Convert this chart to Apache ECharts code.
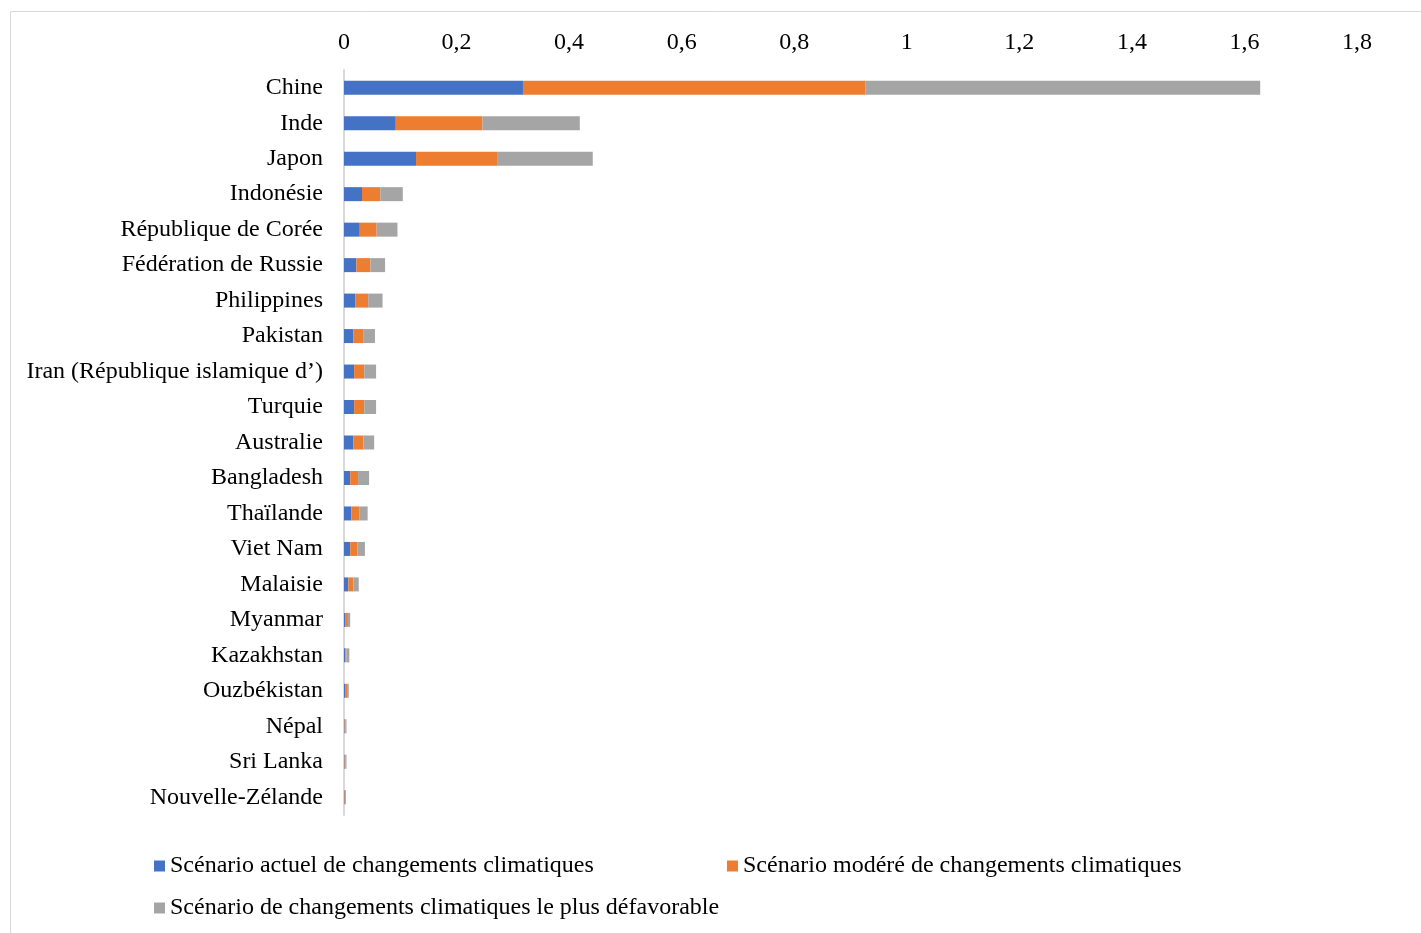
<!DOCTYPE html>
<html>
<head>
<meta charset="utf-8">
<script src="https://cdn.jsdelivr.net/npm/echarts@6/dist/echarts.min.js"></script>
<style>
  html, body { margin: 0; padding: 0; background: #fff; }
  #chart { width: 1421px; height: 933px; }
</style>
</head>
<body>
<div id="chart"></div>
<script>
// pays (du haut vers le bas)
var categories = ['Chine', 'Inde', 'Japon', 'Indonésie', 'République de Corée', 'Fédération de Russie',
  'Philippines', 'Pakistan', 'Iran (République islamique d’)', 'Turquie', 'Australie', 'Bangladesh',
  'Thaïlande', 'Viet Nam', 'Malaisie', 'Myanmar', 'Kazakhstan', 'Ouzbékistan', 'Népal', 'Sri Lanka',
  'Nouvelle-Zélande'];

// valeurs
var actuel = [0.318, 0.092, 0.128, 0.032, 0.028, 0.022, 0.020, 0.0166, 0.018, 0.018, 0.0166, 0.011,
  0.013, 0.011, 0.0077, 0.002, 0.0025, 0.002, 0.001, 0.001, 0.001];
var modere = [0.609, 0.154, 0.144, 0.0325, 0.030, 0.025, 0.023, 0.0184, 0.018, 0.018, 0.018, 0.014,
  0.014, 0.0126, 0.009, 0.005, 0.002, 0.0035, 0.0015, 0.0015, 0.001];
var defavorable = [0.701, 0.173, 0.170, 0.040, 0.037, 0.026, 0.0255, 0.020, 0.021, 0.021, 0.019, 0.0196,
  0.015, 0.0136, 0.0095, 0.004, 0.005, 0.003, 0.002, 0.002, 0.0015];

var seriesNames = ['Scénario actuel de changements climatiques',
  'Scénario modéré de changements climatiques',
  'Scénario de changements climatiques le plus défavorable'];
var colors = ['#4472C4', '#ED7D31', '#A5A5A5'];

var font = '"Liberation Serif", "Times New Roman", serif';
var myChart = echarts.init(document.getElementById('chart'));

function legendAt(name, left, top) {
  return {
    data: [name], left: left, top: top,
    itemWidth: 11, itemHeight: 11, itemGap: 0,
    icon: 'rect', selectedMode: false,
    textStyle: { fontFamily: font, fontSize: 24, color: '#000', padding: [0, 0, 0, 0] }
  };
}

var option = {
  animation: false,
  color: colors,
  graphic: [{
    type: 'rect', silent: true,
    shape: { x: 10.5, y: 11.5, width: 1430, height: 940 },
    style: { fill: 'none', stroke: '#D9D9D9', lineWidth: 1 }
  }],
  legend: [
    legendAt(seriesNames[0], 149, 849),
    legendAt(seriesNames[1], 722, 849),
    legendAt(seriesNames[2], 149, 891)
  ],
  grid: { left: 344, right: 64, top: 70, bottom: 118 },
  xAxis: {
    type: 'value', position: 'top', min: 0, max: 1.8, interval: 0.2,
    axisLine: { show: false }, axisTick: { show: false }, splitLine: { show: false },
    axisLabel: {
      margin: 15, fontFamily: font, fontSize: 24, color: '#000',
      formatter: function (v) { return String(Math.round(v * 10) / 10).replace('.', ','); }
    }
  },
  yAxis: {
    type: 'category', data: categories, inverse: true,
    axisLine: { lineStyle: { color: '#D9D9D9', width: 2 } },
    axisTick: { show: false },
    axisLabel: { margin: 21, fontFamily: font, fontSize: 24, color: '#000' }
  },
  series: [
    { name: seriesNames[0], type: 'bar', stack: 'total', data: actuel, barWidth: 14 },
    { name: seriesNames[1], type: 'bar', stack: 'total', data: modere, barWidth: 14 },
    { name: seriesNames[2], type: 'bar', stack: 'total', data: defavorable, barWidth: 14 }
  ]
};

myChart.setOption(option);
</script>
</body>
</html>
